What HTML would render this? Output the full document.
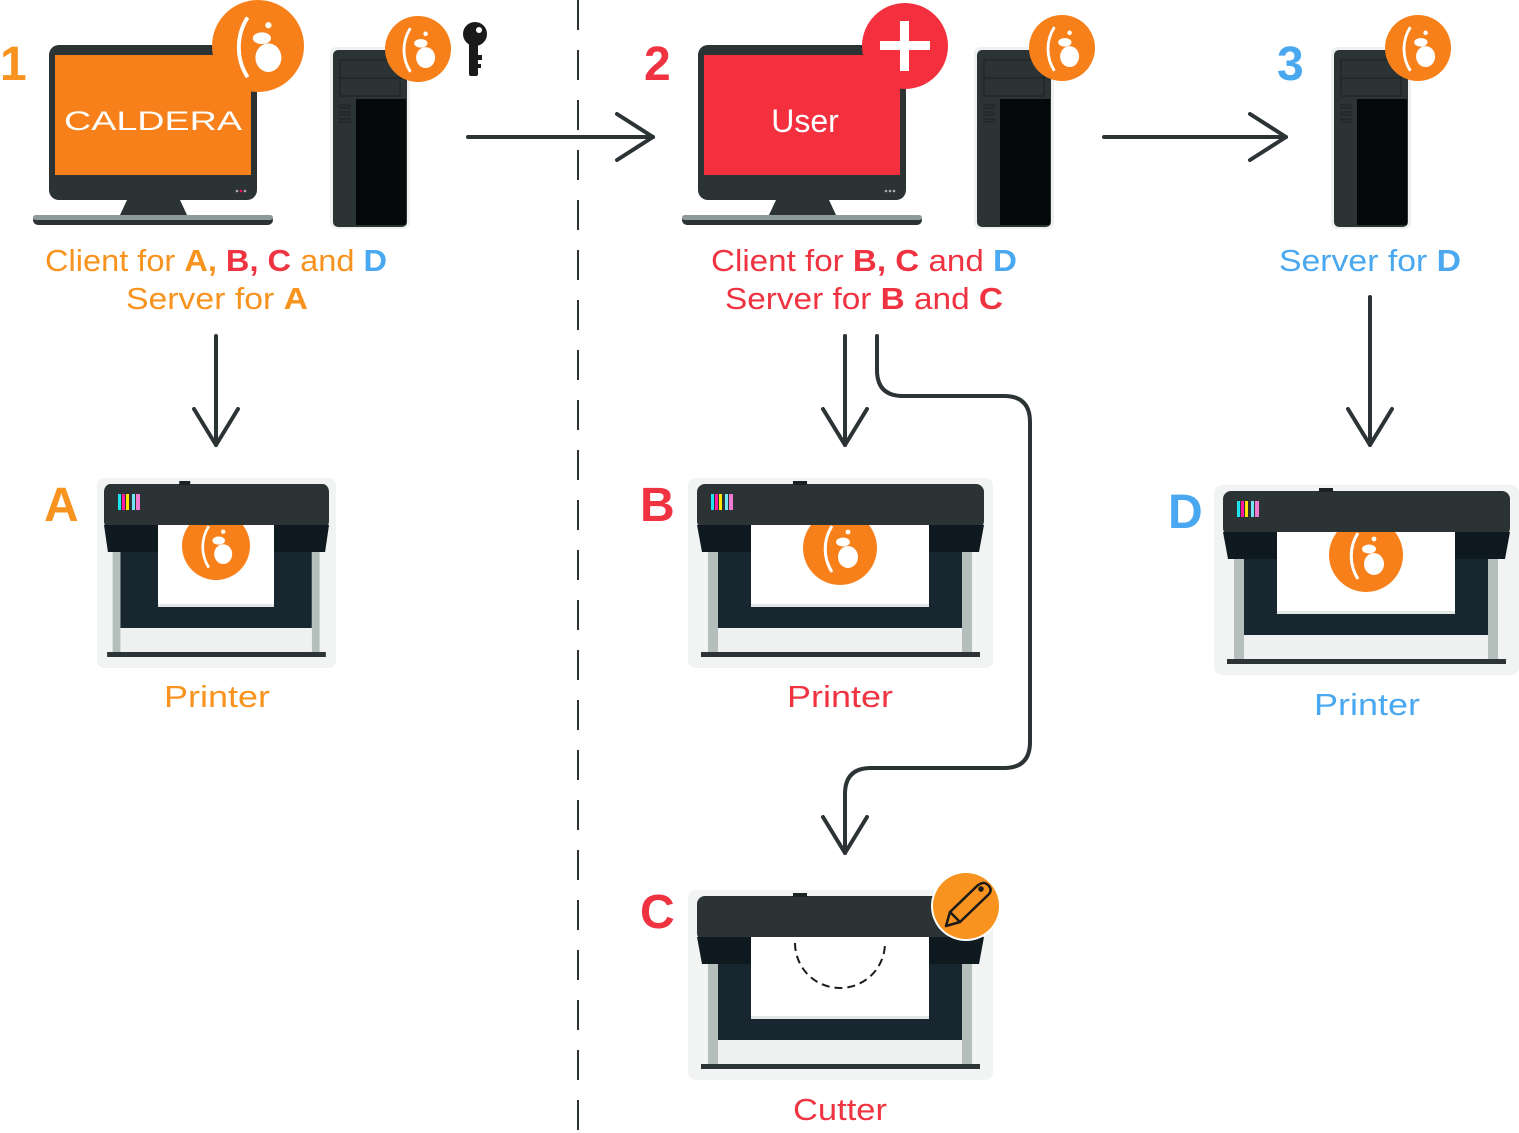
<!DOCTYPE html>
<html><head><meta charset="utf-8"><style>
html,body{margin:0;padding:0;background:#fff;}
svg{display:block;}
text{font-family:"Liberation Sans","DejaVu Sans",sans-serif;}
</style></head><body>
<svg width="1519" height="1133" viewBox="0 0 1519 1133" xmlns="http://www.w3.org/2000/svg">
<defs>
  <g id="prn">
    <rect x="-9" y="-6" width="305" height="190" rx="8" fill="#f1f4f3"/>
    <rect x="0" y="0" width="287" height="45" rx="8" fill="#2b3335"/>
    <polygon points="0,41 287,41 282,68 5,68" fill="#0f1a20"/>
    <rect x="11" y="68" width="10" height="100" fill="#b4bfbb"/>
    <rect x="265" y="68" width="10" height="100" fill="#b4bfbb"/>
    <rect x="21" y="68" width="244" height="76" fill="#17262f"/>
    <rect x="21" y="144" width="244" height="24" fill="#eef1f0"/>
    <rect x="54" y="41" width="178" height="82" fill="#fff"/>
    <rect x="54" y="120" width="178" height="3" fill="#e3e8e6"/>
    <rect x="4" y="168" width="279" height="5" fill="#2d3436"/>
    <rect x="96" y="-3" width="14" height="4" fill="#1a2224"/>
  </g>
  <g id="ink">
    <rect x="0" y="0" width="3" height="16" fill="#1de3f0"/>
    <rect x="4" y="0" width="3" height="16" fill="#ff1aa0"/>
    <rect x="8" y="0" width="3" height="16" fill="#ffe500"/>
    <rect x="14" y="0" width="3" height="16" fill="#70e6f5"/>
    <rect x="18" y="0" width="4" height="16" fill="#f07ad0"/>
  </g>
  <g id="logo">
    <path d="M-8,-22 C-17,-8 -17,10 -8,24" stroke="#fff" stroke-width="3" fill="none"/>
    <ellipse cx="3" cy="-6" rx="7" ry="4.5" fill="#fff"/>
    <circle cx="8" cy="-16" r="2.4" fill="#fff"/>
    <ellipse cx="8" cy="9" rx="10" ry="11" fill="#fff"/>
  </g>
  <g id="tower">
    <rect x="-3" y="-3" width="80" height="182" rx="6" fill="#eef1f0"/>
    <rect x="0" y="0" width="74" height="177" rx="5" fill="#2b3335"/>
    <rect x="7" y="10" width="60" height="18" fill="none" stroke="#1a2224" stroke-width="1"/>
    <rect x="7" y="28" width="60" height="18" fill="none" stroke="#1a2224" stroke-width="1"/>
    <rect x="23" y="49" width="50" height="126" fill="#05080a"/>
    <rect x="7" y="55" width="10" height="3" fill="none" stroke="#1a2224" stroke-width="1"/>
    <rect x="7" y="62" width="10" height="3" fill="none" stroke="#1a2224" stroke-width="1"/>
    <rect x="7" y="69" width="10" height="3" fill="none" stroke="#1a2224" stroke-width="1"/>
  </g>
  <clipPath id="ca"><rect x="158" y="525" width="116" height="82"/></clipPath>
  <clipPath id="cb"><rect x="751" y="525" width="178" height="82"/></clipPath>
  <clipPath id="cd"><rect x="1277" y="532" width="178" height="82"/></clipPath>
</defs>

<line x1="578" y1="0" x2="578" y2="1133" stroke="#2b3335" stroke-width="2" stroke-dasharray="30,20"/>

<!-- Monitor 1 -->
<rect x="49" y="45" width="208" height="155" rx="10" fill="#2b3335"/>
<rect x="55" y="55" width="196" height="120" fill="#f7801a"/>
<polygon points="127,200 180,200 187,215 120,215" fill="#2b3335"/>
<rect x="33" y="215" width="240" height="10" rx="5" fill="#2b3335"/>
<rect x="33" y="215" width="240" height="5" rx="3" fill="#8e9a97"/>
<text x="153" y="130" text-anchor="middle" font-size="27" fill="#fff" textLength="178" lengthAdjust="spacingAndGlyphs">CALDERA</text>
<circle cx="237" cy="191" r="1.3" fill="#aaa"/><circle cx="241" cy="191" r="1.3" fill="#f06"/><circle cx="245" cy="191" r="1.3" fill="#aaa"/>
<circle cx="258" cy="46" r="46" fill="#f7801a"/>
<use href="#logo" transform="translate(258,46) scale(1.3)"/>

<use href="#tower" x="333" y="50"/>
<circle cx="418" cy="49" r="33" fill="#f7801a"/>
<use href="#logo" transform="translate(418,49) scale(0.95)"/>
<circle cx="475" cy="34" r="12" fill="#1a1a1a"/>
<circle cx="479" cy="30" r="3" fill="#fff"/>
<rect x="469" y="40" width="9" height="36" rx="2" fill="#1a1a1a"/>
<rect x="476" y="55" width="6" height="5" fill="#1a1a1a"/>
<rect x="476" y="64" width="5" height="4" fill="#1a1a1a"/>

<!-- Monitor 2 -->
<rect x="698" y="45" width="208" height="155" rx="10" fill="#2b3335"/>
<rect x="704" y="55" width="196" height="120" fill="#f5303e"/>
<polygon points="776,200 829,200 836,215 769,215" fill="#2b3335"/>
<rect x="682" y="215" width="240" height="10" rx="5" fill="#2b3335"/>
<rect x="682" y="215" width="240" height="5" rx="3" fill="#8e9a97"/>
<text x="805" y="132" text-anchor="middle" font-size="32" fill="#fff">User</text>
<circle cx="886" cy="191" r="1.3" fill="#aaa"/><circle cx="890" cy="191" r="1.3" fill="#aaa"/><circle cx="894" cy="191" r="1.3" fill="#aaa"/>
<circle cx="905" cy="46" r="43" fill="#f5303e"/>
<rect x="880" y="41" width="50" height="9" fill="#fff"/>
<rect x="900" y="21" width="9" height="50" fill="#fff"/>

<use href="#tower" x="977" y="50"/>
<circle cx="1062" cy="48" r="33" fill="#f7801a"/>
<use href="#logo" transform="translate(1062,48) scale(0.95)"/>

<use href="#tower" x="1334" y="50"/>
<circle cx="1418" cy="48" r="33" fill="#f7801a"/>
<use href="#logo" transform="translate(1418,48) scale(0.95)"/>

<g stroke="#2b3335" stroke-width="4" fill="none" stroke-linecap="round" stroke-linejoin="round">
  <line x1="468" y1="137" x2="653" y2="137"/>
  <polyline points="617,114 653,137 617,160"/>
  <line x1="1104" y1="137" x2="1286" y2="137"/>
  <polyline points="1250,114 1286,137 1250,160"/>
  <line x1="216" y1="336" x2="216" y2="445"/>
  <polyline points="194,409 216,445 238,409"/>
  <line x1="845" y1="336" x2="845" y2="445"/>
  <polyline points="823,409 845,445 867,409"/>
  <line x1="1370" y1="297" x2="1370" y2="445"/>
  <polyline points="1348,409 1370,445 1392,409"/>
  <path d="M877,336 L877,370 Q877,396 903,396 L1004,396 Q1030,396 1030,422 L1030,742 Q1030,768 1004,768 L871,768 Q845,768 845,794 L845,853"/>
  <polyline points="823,817 845,853 867,817"/>
</g>

<!-- Printer A -->
<g transform="translate(104,484) scale(0.784,1)"><use href="#prn"/></g>
<rect x="146" y="525" width="12" height="27" fill="#0f1a20"/>
<rect x="274" y="525" width="12" height="27" fill="#0f1a20"/>
<rect x="146" y="552" width="12" height="55" fill="#17262f"/>
<rect x="274" y="552" width="12" height="55" fill="#17262f"/>
<use href="#ink" x="118" y="494"/>
<g clip-path="url(#ca)"><circle cx="216" cy="546" r="34" fill="#f7801a"/></g>
<use href="#logo" transform="translate(216,546) scale(0.9)"/>

<use href="#prn" x="697" y="484"/>
<use href="#ink" x="711" y="494"/>
<g clip-path="url(#cb)"><circle cx="840" cy="548" r="37" fill="#f7801a"/></g>
<use href="#logo" transform="translate(840,548) scale(1)"/>

<use href="#prn" x="1223" y="491"/>
<use href="#ink" x="1237" y="501"/>
<g clip-path="url(#cd)"><circle cx="1366" cy="555" r="37" fill="#f7801a"/></g>
<use href="#logo" transform="translate(1366,555) scale(1)"/>

<use href="#prn" x="697" y="896"/>
<path d="M795,943 A45,45 0 0 0 885,943" stroke="#1a1a1a" stroke-width="2" fill="none" stroke-dasharray="8,5"/>
<circle cx="966" cy="906" r="35" fill="#fff"/>
<circle cx="966" cy="906" r="33" fill="#f7931e"/>
<g stroke="#1a1a1a" stroke-width="2.5" fill="none" stroke-linejoin="round">
  <path d="M950,912 L977,886 Q984,880 989,886 Q993,891 987,896 L960,922 Z"/>
  <path d="M950,912 L946,926 L960,922"/>
  <circle cx="981" cy="889" r="1.5" fill="#1a1a1a"/>
</g>

<g font-size="31">
<text x="216" y="271" text-anchor="middle" textLength="342" lengthAdjust="spacingAndGlyphs"><tspan fill="#f7931e">Client for </tspan><tspan fill="#f7931e" font-weight="bold">A, </tspan><tspan fill="#ef3340" font-weight="bold">B, C </tspan><tspan fill="#f7931e">and </tspan><tspan fill="#4aa8f0" font-weight="bold">D</tspan></text>
<text x="217" y="309" text-anchor="middle" textLength="182" lengthAdjust="spacingAndGlyphs"><tspan fill="#f7931e">Server for </tspan><tspan fill="#f7931e" font-weight="bold">A</tspan></text>
<text x="864" y="271" text-anchor="middle" textLength="306" lengthAdjust="spacingAndGlyphs"><tspan fill="#ef3340">Client for </tspan><tspan fill="#ef3340" font-weight="bold">B, C </tspan><tspan fill="#ef3340">and </tspan><tspan fill="#4aa8f0" font-weight="bold">D</tspan></text>
<text x="864" y="309" text-anchor="middle" textLength="278" lengthAdjust="spacingAndGlyphs"><tspan fill="#ef3340">Server for </tspan><tspan fill="#ef3340" font-weight="bold">B </tspan><tspan fill="#ef3340">and </tspan><tspan fill="#ef3340" font-weight="bold">C</tspan></text>
<text x="1370" y="271" text-anchor="middle" textLength="182" lengthAdjust="spacingAndGlyphs"><tspan fill="#4aa8f0">Server for </tspan><tspan fill="#4aa8f0" font-weight="bold">D</tspan></text>
<text x="217" y="707" text-anchor="middle" fill="#f7931e" textLength="106" lengthAdjust="spacingAndGlyphs">Printer</text>
<text x="840" y="707" text-anchor="middle" fill="#ef3340" textLength="106" lengthAdjust="spacingAndGlyphs">Printer</text>
<text x="1367" y="715" text-anchor="middle" fill="#4aa8f0" textLength="106" lengthAdjust="spacingAndGlyphs">Printer</text>
<text x="840" y="1120" text-anchor="middle" fill="#ef3340" textLength="94" lengthAdjust="spacingAndGlyphs">Cutter</text>
</g>
<g font-size="48" font-weight="bold">
<text x="0" y="80" fill="#f7931e">1</text>
<text x="644" y="80" fill="#ef3340">2</text>
<text x="1277" y="80" fill="#4aa8f0">3</text>
<text x="44" y="521" fill="#f7931e">A</text>
<text x="640" y="521" fill="#ef3340">B</text>
<text x="640" y="928" fill="#ef3340">C</text>
<text x="1168" y="528" fill="#4aa8f0">D</text>
</g>
</svg>
</body></html>
